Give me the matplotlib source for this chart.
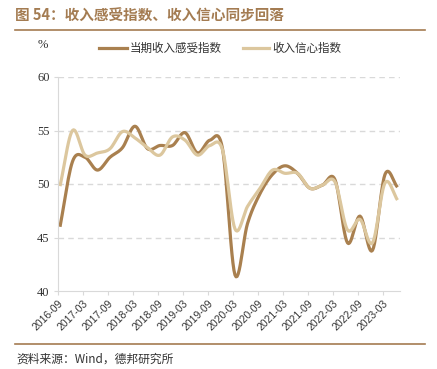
import matplotlib
matplotlib.use('Agg')
import matplotlib.pyplot as plt
import numpy as np
from matplotlib.lines import Line2D

plt.rcParams['font.family'] = ['Noto Sans CJK SC', 'DejaVu Sans']

# quarterly data, 2016Q3 - 2023Q2
quarters = ['2016-09', '2016-12', '2017-03', '2017-06', '2017-09', '2017-12',
            '2018-03', '2018-06', '2018-09', '2018-12', '2019-03', '2019-06',
            '2019-09', '2019-12', '2020-03', '2020-06', '2020-09', '2020-12',
            '2021-03', '2021-06', '2021-09', '2021-12', '2022-03', '2022-06',
            '2022-09', '2022-12', '2023-03', '2023-06']
income_now = [46.0, 52.1, 52.5, 51.3, 52.5, 53.4, 55.4, 53.3, 53.6, 53.6, 54.8, 52.9,
              54.1, 53.3, 41.5, 46.3, 49.1, 50.9, 51.7, 51.0, 49.6, 49.9, 50.4, 44.5,
              47.0, 43.8, 50.9, 49.7]
income_conf = [49.8, 55.0, 52.7, 52.9, 53.3, 54.9, 54.3, 53.4, 52.7, 54.4, 54.1, 52.7,
               53.6, 53.2, 45.8, 47.9, 49.6, 51.3, 51.0, 51.0, 49.6, 49.9, 50.2, 45.7,
               46.7, 44.5, 50.1, 48.5]
tick_labels = quarters[::2]

label_now = '当期收入感受指数'
label_conf = '收入信心指数'
col_now = '#A9804F'
col_conf = '#DCC79E'
col_title = '#A47C52'


def smooth(y, n=12):
    # Catmull-Rom spline through the points (like Excel's smoothed lines)
    y = np.asarray(y, dtype=float)
    p = np.concatenate([[2 * y[0] - y[1]], y, [2 * y[-1] - y[-2]]])
    xs, ys = [], []
    for i in range(len(y) - 1):
        p0, p1, p2, p3 = p[i], p[i + 1], p[i + 2], p[i + 3]
        t = np.linspace(0, 1, n, endpoint=False)
        v = 0.5 * ((2 * p1) + (-p0 + p2) * t + (2 * p0 - 5 * p1 + 4 * p2 - p3) * t ** 2
                   + (-p0 + 3 * p1 - 3 * p2 + p3) * t ** 3)
        xs.append(i + t)
        ys.append(v)
    xs.append([len(y) - 1])
    ys.append([y[-1]])
    return np.concatenate(xs), np.concatenate(ys)


fig = plt.figure(figsize=(4.37, 3.69), dpi=100)
ax = fig.add_axes([58 / 437, 1 - 291 / 369, 342 / 437, 214 / 369])

x1, y1 = smooth(income_now)
x2, y2 = smooth(income_conf)
ax.plot(x1, y1, color=col_now, lw=2.3, solid_capstyle='butt')
ax.plot(x2, y2, color=col_conf, lw=2.3, solid_capstyle='butt')

ax.set_xlim(-0.16, 27.2)
ax.set_ylim(40, 60)
ax.set_yticks([40, 45, 50, 55, 60])
for v in [45, 50, 55, 60]:
    ax.axhline(v, color='#D9D9D9', lw=1, ls=(0, (4, 3)), zorder=0)

ax.set_xticks(np.arange(0, len(quarters), 2) - 0.16)
ax.set_xticklabels(tick_labels, rotation=45, ha='right', rotation_mode='anchor',
                   fontsize=7.5, family=['Liberation Sans'])
for lab in ax.get_yticklabels():
    lab.set_family(['Liberation Serif'])
    lab.set_fontsize(9)
ax.tick_params(axis='x', length=3, color='#D9D9D9', pad=2)
ax.tick_params(axis='y', length=3, color='#D9D9D9', pad=3, labelcolor='#333333')
ax.tick_params(axis='x', labelcolor='#333333')
for s in ['top', 'right']:
    ax.spines[s].set_visible(False)
ax.spines['left'].set_color('#D9D9D9')
ax.spines['bottom'].set_color('#D9D9D9')

# title and rules
fig.text(15 / 437, 1 - 16 / 369, '图 54：收入感受指数、收入信心同步回落', fontsize=10.5,
         fontweight='bold', color=col_title, va='center', ha='left')
fig.add_artist(Line2D([15 / 437, 425 / 437], [1 - 30 / 369, 1 - 30 / 369],
                      color=col_title, lw=1.2))
fig.add_artist(Line2D([15 / 437, 425 / 437], [1 - 344 / 369, 1 - 344 / 369],
                      color=col_title, lw=1.2))
fig.text(16 / 437, 1 - 359 / 369, '资料来源：Wind，德邦研究所', fontsize=8.5,
         color='#333333', va='center', ha='left')

# unit and legend
fig.text(38 / 437, 1 - 45 / 369, '%', fontsize=9, family=['Liberation Serif'],
         color='#333333', va='center', ha='left')
fig.add_artist(Line2D([99 / 437, 127 / 437], [1 - 48 / 369, 1 - 48 / 369],
                      color=col_now, lw=2.3))
fig.text(130 / 437, 1 - 48 / 369, label_now, fontsize=8.3, color='#333333',
         va='center', ha='left')
fig.add_artist(Line2D([243 / 437, 269 / 437], [1 - 48 / 369, 1 - 48 / 369],
                      color=col_conf, lw=2.3))
fig.text(272 / 437, 1 - 48 / 369, label_conf, fontsize=8.3, color='#333333',
         va='center', ha='left')

fig.savefig('out.png', dpi=100)
